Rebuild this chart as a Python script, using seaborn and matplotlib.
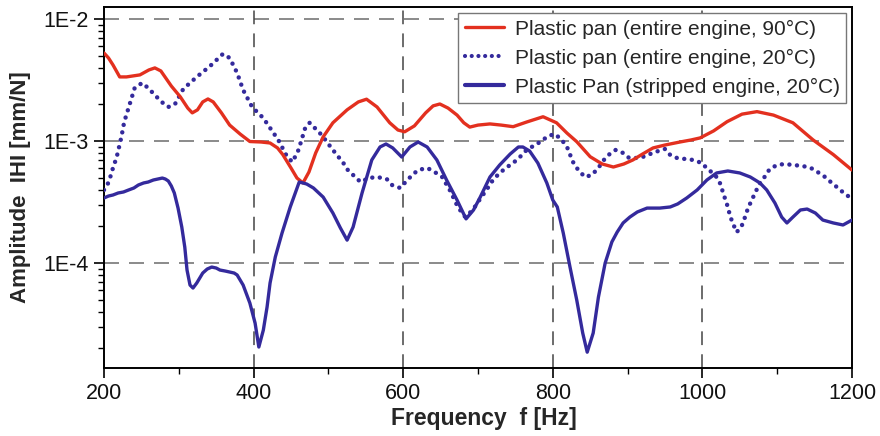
import numpy as np
import pandas as pd
import matplotlib
matplotlib.use("Agg")
import matplotlib.pyplot as plt
import seaborn as sns
from matplotlib.ticker import LogLocator, FixedLocator, NullFormatter
from matplotlib.lines import Line2D

# ---------------- data ----------------
freq_hot = [200, 206, 212, 221, 230, 248, 260, 268, 276, 290, 302, 312, 318, 325, 332, 339, 346, 357,
            368, 382, 395, 410, 422, 432, 439, 450, 458, 466, 474, 483, 493, 506, 525, 540, 551, 565,
            582, 593, 602, 615, 630, 640, 649, 660, 672, 681, 689, 700, 716, 731, 747, 765, 787, 805,
            819, 832, 850, 866, 881, 895, 907, 920, 934, 950, 970, 985, 997, 1015, 1033, 1053, 1073,
            1095, 1121, 1148, 1175, 1200]
amp_hot = [5.26e-3, 4.79e-3, 4.20e-3, 3.35e-3, 3.35e-3, 3.48e-3, 3.82e-3, 3.97e-3, 3.75e-3, 2.82e-3,
           2.30e-3, 1.86e-3, 1.70e-3, 1.80e-3, 2.09e-3, 2.21e-3, 2.09e-3, 1.70e-3, 1.35e-3, 1.14e-3,
           0.99e-3, 0.981e-3, 0.963e-3, 0.877e-3, 0.774e-3, 0.601e-3, 0.497e-3, 0.453e-3, 0.557e-3,
           0.798e-3, 1.08e-3, 1.41e-3, 1.80e-3, 2.09e-3, 2.20e-3, 1.90e-3, 1.41e-3, 1.23e-3, 1.19e-3,
           1.33e-3, 1.70e-3, 1.94e-3, 2.01e-3, 1.86e-3, 1.63e-3, 1.41e-3, 1.30e-3, 1.35e-3, 1.38e-3,
           1.35e-3, 1.31e-3, 1.43e-3, 1.58e-3, 1.41e-3, 1.16e-3, 0.987e-3, 0.743e-3, 0.648e-3,
           0.612e-3, 0.648e-3, 0.699e-3, 0.782e-3, 0.877e-3, 0.927e-3, 0.981e-3, 1.02e-3, 1.06e-3,
           1.21e-3, 1.44e-3, 1.66e-3, 1.74e-3, 1.63e-3, 1.41e-3, 1.02e-3, 0.774e-3, 0.578e-3]

freq_cold = [200, 204, 208, 212, 217, 223, 227, 234, 241, 251, 259, 268, 277, 286, 295, 306, 324, 342,
             359, 368, 378, 386, 398, 413, 433, 445, 452, 460, 469, 475, 491, 505, 520, 526, 543, 554,
             565, 578, 585, 596, 602, 612, 620, 632, 640, 652, 663, 673, 683, 693, 700, 713, 720, 729,
             739, 747, 756, 765, 774, 783, 794, 803, 812, 819, 827, 834, 843, 852, 861, 867, 876, 884,
             894, 902, 912, 920, 937, 950, 957, 966, 977, 988, 999, 1007, 1017, 1023, 1030, 1034, 1037,
             1041, 1046, 1053, 1057, 1061, 1066, 1071, 1077, 1084, 1090, 1100, 1110, 1121, 1134, 1145,
             1154, 1164, 1173, 1183, 1192, 1200]
amp_cold = [3.97e-4, 4.28e-4, 4.97e-4, 6.01e-4, 7.39e-4, 1.06e-3, 1.43e-3, 1.97e-3, 2.72e-3, 2.99e-3,
            2.72e-3, 2.38e-3, 2.09e-3, 1.90e-3, 2.01e-3, 2.67e-3, 3.35e-3, 4.12e-3, 5.17e-3, 4.79e-3,
            3.61e-3, 2.62e-3, 1.90e-3, 1.54e-3, 1.02e-3, 7.39e-4, 6.73e-4, 8.44e-4, 1.28e-3, 1.41e-3,
            1.12e-3, 8.60e-4, 6.60e-4, 5.78e-4, 4.61e-4, 4.97e-4, 5.07e-4, 4.88e-4, 4.36e-4, 4.12e-4,
            4.53e-4, 5.26e-4, 5.78e-4, 6.01e-4, 5.68e-4, 5.07e-4, 3.89e-4, 2.88e-4, 2.38e-4, 2.72e-4,
            3.16e-4, 4.12e-4, 4.79e-4, 5.47e-4, 6.12e-4, 6.60e-4, 7.39e-4, 8.44e-4, 9.10e-4, 9.81e-4,
            1.10e-3, 1.14e-3, 1.02e-3, 8.93e-4, 6.73e-4, 5.78e-4, 5.07e-4, 5.26e-4, 6.01e-4, 6.86e-4,
            7.82e-4, 8.44e-4, 7.98e-4, 7.26e-4, 7.26e-4, 7.39e-4, 8.13e-4, 8.60e-4, 7.68e-4, 7.26e-4,
            7.12e-4, 6.99e-4, 6.60e-4, 5.90e-4, 5.26e-4, 4.61e-4, 3.41e-4, 2.88e-4, 2.43e-4, 2.09e-4,
            1.79e-4, 2.05e-4, 2.38e-4, 2.82e-4, 3.28e-4, 3.82e-4, 4.53e-4, 5.16e-4, 5.90e-4, 6.36e-4,
            6.48e-4, 6.36e-4, 6.24e-4, 6.01e-4, 5.57e-4, 5.07e-4, 4.53e-4, 4.04e-4, 3.61e-4, 3.41e-4]

freq_strip = [200, 206, 212, 219, 226, 233, 240, 246, 253, 259, 266, 272, 278, 282, 286, 290, 294, 299,
              304, 308, 311, 315, 319, 324, 332, 338, 344, 350, 355, 362, 368, 374, 378, 386, 395, 402,
              407, 413, 418, 422, 429, 438, 449, 461, 466, 471, 480, 493, 506, 516, 525, 533, 545, 558,
              569, 577, 586, 598, 609, 620, 632, 645, 658, 672, 684, 694, 703, 716, 729, 743, 754, 760,
              769, 780, 792, 800, 806, 814, 823, 832, 840, 846, 854, 861, 870, 879, 886, 894, 903, 913,
              926, 943, 957, 967, 979, 993, 1006, 1019, 1034, 1050, 1064, 1077, 1086, 1097, 1106, 1113,
              1121, 1131, 1140, 1151, 1161, 1175, 1188, 1200]
amp_strip = [3.41e-4, 3.54e-4, 3.61e-4, 3.75e-4, 3.82e-4, 3.97e-4, 4.12e-4, 4.36e-4, 4.53e-4, 4.61e-4,
             4.79e-4, 4.88e-4, 4.97e-4, 4.88e-4, 4.70e-4, 4.28e-4, 3.75e-4, 2.82e-4, 1.97e-4, 1.35e-4,
             8.76e-5, 6.60e-5, 6.24e-5, 6.86e-5, 8.28e-5, 8.93e-5, 9.27e-5, 9.10e-5, 8.76e-5, 8.60e-5,
             8.44e-5, 8.28e-5, 7.98e-5, 6.60e-5, 4.70e-5, 3.22e-5, 2.05e-5, 2.82e-5, 4.36e-5, 6.86e-5,
             1.12e-4, 1.76e-4, 2.88e-4, 4.61e-4, 4.53e-4, 4.44e-4, 4.12e-4, 3.47e-4, 2.57e-4, 1.94e-4,
             1.54e-4, 1.97e-4, 3.75e-4, 6.99e-4, 8.93e-4, 9.45e-4, 8.77e-4, 7.39e-4, 8.93e-4, 9.81e-4,
             8.93e-4, 6.99e-4, 4.79e-4, 3.28e-4, 2.30e-4, 2.72e-4, 3.47e-4, 5.07e-4, 6.36e-4, 7.82e-4,
             8.93e-4, 8.93e-4, 8.28e-4, 6.60e-4, 4.53e-4, 3.28e-4, 2.88e-4, 1.76e-4, 9.27e-5, 4.98e-5,
             2.67e-5, 1.86e-5, 2.67e-5, 5.26e-5, 1.00e-4, 1.49e-4, 1.79e-4, 2.13e-4, 2.38e-4, 2.62e-4,
             2.82e-4, 2.82e-4, 2.88e-4, 3.05e-4, 3.41e-4, 3.97e-4, 4.79e-4, 5.47e-4, 5.68e-4, 5.47e-4,
             5.07e-4, 4.53e-4, 3.97e-4, 3.10e-4, 2.38e-4, 2.13e-4, 2.38e-4, 2.72e-4, 2.77e-4, 2.57e-4,
             2.25e-4, 2.13e-4, 2.05e-4, 2.25e-4]

labels = ["Plastic pan (entire engine, 90°C)",
          "Plastic pan (entire engine, 20°C)",
          "Plastic Pan (stripped engine, 20°C)"]
x_ticks = [200, 400, 600, 800, 1000, 1200]
y_ticks = [1e-4, 1e-3, 1e-2]
y_ticklabels = ["1E-4", "1E-3", "1E-2"]

# ---------------- style ----------------
sns.set_style("white")
plt.rcParams["font.family"] = ["Liberation Sans", "DejaVu Sans"]

RED = "#e3301f"
BLUE = "#342a9c"

fig = plt.figure(figsize=(8.8, 4.36), dpi=100)
ax = fig.add_axes([104 / 880, 1 - 368 / 436, (852 - 104) / 880, (368 - 7) / 436])

df_hot = pd.DataFrame({"f": freq_hot, "a": amp_hot})
df_cold = pd.DataFrame({"f": freq_cold, "a": amp_cold})
df_strip = pd.DataFrame({"f": freq_strip, "a": amp_strip})

sns.lineplot(data=df_hot, x="f", y="a", ax=ax, color=RED, lw=2.4, zorder=5)
sns.lineplot(data=df_cold, x="f", y="a", ax=ax, color=BLUE, lw=3.2, zorder=4)
ax.lines[-1].set_dashes((0.01, 1.7))
ax.lines[-1].set_dash_capstyle("round")
sns.lineplot(data=df_strip, x="f", y="a", ax=ax, color=BLUE, lw=2.4, zorder=6)

ax.set_yscale("log")
ax.set_xlim(200, 1200)
ax.set_ylim(1.38e-5, 1.253e-2)

ax.xaxis.set_major_locator(FixedLocator(x_ticks))
ax.xaxis.set_minor_locator(FixedLocator([300, 500, 700, 900, 1100]))
ax.set_xticklabels([str(v) for v in x_ticks])
ax.yaxis.set_major_locator(FixedLocator(y_ticks))
ax.set_yticklabels(y_ticklabels)
ax.yaxis.set_minor_locator(LogLocator(base=10, subs=np.arange(2, 10)))
ax.yaxis.set_minor_formatter(NullFormatter())

ax.tick_params(axis="both", which="major", direction="out", length=7, width=1.2,
               labelsize=15.5, color="black", labelcolor="#111111", pad=4,
               left=True, bottom=True)
ax.tick_params(axis="both", which="minor", direction="out", length=4, width=1.0,
               color="black", left=True, bottom=True)
ax.tick_params(axis="y", which="both", right=False)

for s in ax.spines.values():
    s.set_color("black")
    s.set_linewidth(1.4)

# grid lines
for yv in y_ticks:
    ax.axhline(yv, color="#777777", lw=1.2, ls=(0, (9, 6)), zorder=1)
for xv in [400, 600, 800, 1000]:
    ax.axvline(xv, color="#444444", lw=1.1, ls=(0, (9, 6)), zorder=1)

ax.set_xlabel("Frequency  f [Hz]", fontsize=16.5, fontweight="bold", labelpad=2)
ax.xaxis.label.set_x(0.508)
ax.set_ylabel("Amplitude  IHI [mm/N]", fontsize=16, fontweight="bold", labelpad=9)

handles = [Line2D([], [], color=RED, lw=2.4),
           Line2D([], [], color=BLUE, lw=3.0, dashes=(0.01, 1.6), dash_capstyle="round"),
           Line2D([], [], color=BLUE, lw=3.0)]
leg = ax.legend(handles, labels, loc="upper right", fontsize=15, frameon=True,
                fancybox=False, framealpha=1, edgecolor="#777777", borderaxespad=0.3,
                handlelength=1.9, handletextpad=0.5, labelspacing=0.48, borderpad=0.3)
leg.get_frame().set_linewidth(1.0)
leg.set_zorder(10)

fig.savefig("out.png", dpi=100)
